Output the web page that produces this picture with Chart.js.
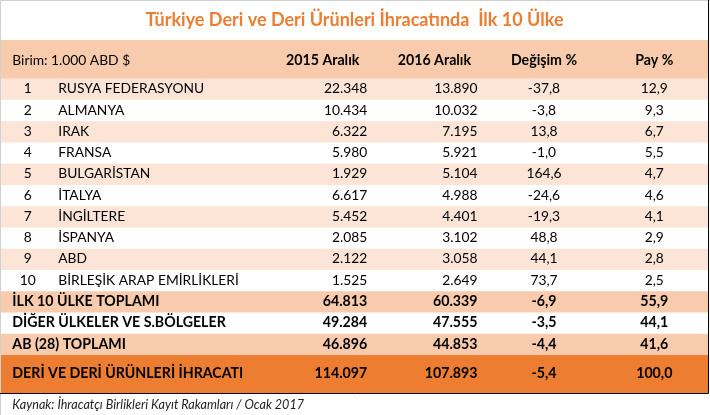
<!DOCTYPE html>
<html>
<head>
<meta charset="utf-8">
<script src="https://cdn.jsdelivr.net/npm/chart.js@4"></script>
<style>
  html, body { margin: 0; padding: 0; background: #fff; }
  .wrap { position: relative; width: 710px; height: 415px; }
</style>
</head>
<body>
<div class="wrap"><canvas id="tablo"></canvas></div>
<script>
const headers = ["Birim: 1.000 ABD $", "2015 Aralık", "2016 Aralık", "Değişim %", "Pay %"];
const ranks = [1, 2, 3, 4, 5, 6, 7, 8, 9, 10];
const countries = ["RUSYA FEDERASYONU", "ALMANYA", "IRAK", "FRANSA", "BULGARİSTAN",
  "İTALYA", "İNGİLTERE", "İSPANYA", "ABD", "BİRLEŞİK ARAP EMİRLİKLERİ"];
const dec2015 = [22348, 10434, 6322, 5980, 1929, 6617, 5452, 2085, 2122, 1525];
const dec2016 = [13890, 10032, 7195, 5921, 5104, 4988, 4401, 3102, 3058, 2649];
const change = [-37.8, -3.8, 13.8, -1.0, 164.6, -24.6, -19.3, 48.8, 44.1, 73.7];
const share = [12.9, 9.3, 6.7, 5.5, 4.7, 4.6, 4.1, 2.9, 2.8, 2.5];

const totalLabels = ["İLK 10 ÜLKE TOPLAMI", "DİĞER ÜLKELER VE S.BÖLGELER", "AB (28) TOPLAMI", "DERİ VE DERİ ÜRÜNLERİ İHRACATI"];
const total2015 = [64813, 49284, 46896, 114097];
const total2016 = [60339, 47555, 44853, 107893];
const totalChange = [-6.9, -3.5, -4.4, -5.4];
const totalShare = [55.9, 44.1, 41.6, 100.0];

const title = "Türkiye Deri ve Deri Ürünleri İhracatında  İlk 10 Ülke";
const source = "Kaynak: İhracatçı Birlikleri Kayıt Rakamları / Ocak 2017";

// turkish number format
const fmtInt = v => String(v).replace(/\B(?=(\d{3})+(?!\d))/g, ".");
const fmtDec = v => v.toFixed(1).replace(".", ",");

const FONT = "Lato, 'Open Sans', sans-serif";
const PINK = "#fce4d6", PEACH = "#f8cbad", ORANGE = "#ed7d31";
const BIG = 1.8; // header / grand total rows are taller

// row bands: [start, end] in row units
const bands = [];
bands.push({ y: [-BIG, 0], color: PEACH });
ranks.forEach((r, i) => bands.push({ y: [i, i + 1], color: i % 2 === 0 ? PINK : "#ffffff" }));
bands.push({ y: [10, 11], color: PEACH });
bands.push({ y: [11, 12], color: "#ffffff" });
bands.push({ y: [12, 13], color: PEACH });
bands.push({ y: [13, 13 + BIG], color: ORANGE });

// column layout, percent of table width
const col = { left: 1.6, rank: 3.8, name: 8.1, h15: 45.5, v15: 51.8, h16: 61.3, v16: 67.4, chg: 76.8, shr: 92.4 };

const cellText = {
  id: "cellText",
  afterDatasetsDraw(chart) {
    const { ctx, scales } = chart;
    const x = p => scales.col.getPixelForValue(p);
    const y = r => scales.y.getPixelForValue(r);
    const put = (t, px, py, align, bold, color) => {
      ctx.font = bold ? "bold 14.2px " + FONT : "13.8px " + FONT;
      ctx.fillStyle = color || "#000";
      ctx.textAlign = align;
      ctx.textBaseline = "middle";
      ctx.fillText(t, px, py);
    };
    ctx.save();
    const hy = y(-BIG / 2) + 1;
    put(headers[0], x(col.left), hy, "left", false);
    put(headers[1], x(col.h15), hy, "center", true);
    put(headers[2], x(col.h16), hy, "center", true);
    put(headers[3], x(col.chg), hy, "center", true);
    put(headers[4], x(col.shr), hy, "center", true);

    ranks.forEach((r, i) => {
      const py = y(i + 0.5);
      put(String(r), x(col.rank), py, "center", false);
      put(countries[i], x(col.name), py, "left", false);
      put(fmtInt(dec2015[i]), x(col.v15), py, "right", false);
      put(fmtInt(dec2016[i]), x(col.v16), py, "right", false);
      put(fmtDec(change[i]), x(col.chg), py, "center", false);
      put(fmtDec(share[i]), x(col.shr), py, "center", false);
    });

    totalLabels.forEach((t, i) => {
      const py = i < 3 ? y(10 + i + 0.5) : y(13 + BIG / 2);
      put(t, x(col.left), py, "left", true);
      put(fmtInt(total2015[i]), x(col.v15), py, "right", true);
      put(fmtInt(total2016[i]), x(col.v16), py, "right", true);
      put(fmtDec(totalChange[i]), x(col.chg), py, "center", true);
      put(fmtDec(totalShare[i]), x(col.shr), py, "center", true);
    });

    // frame
    const a = chart.chartArea;
    ctx.lineWidth = 1;
    ctx.strokeStyle = "#d0d0d0";
    ctx.beginPath();
    ctx.moveTo(0.5, chart.height); ctx.lineTo(0.5, 0.5); ctx.lineTo(chart.width, 0.5);
    ctx.stroke();
    ctx.strokeStyle = "#000";
    ctx.beginPath();
    ctx.moveTo(chart.width - 1.5, 0); ctx.lineTo(chart.width - 1.5, a.bottom + 0.5); ctx.lineTo(0, a.bottom + 0.5);
    ctx.stroke();

    ctx.font = "italic 12.6px " + FONT;
    ctx.fillStyle = "#222";
    ctx.textAlign = "left";
    ctx.textBaseline = "middle";
    ctx.fillText(source, x(col.left), a.bottom + 12);
    ctx.restore();
  }
};

new Chart(document.getElementById("tablo"), {
  type: "bar",
  data: {
    labels: [""],
    datasets: bands.map(b => ({
      data: [b.y],
      backgroundColor: b.color,
      borderWidth: 0,
      grouped: false,
      barPercentage: 1,
      categoryPercentage: 1,
    })),
  },
  options: {
    responsive: true,
    maintainAspectRatio: false,
    animation: false,
    events: [],
    layout: { padding: { left: 1, right: 2, bottom: 22 } },
    scales: {
      x: { display: false },
      col: { type: "linear", axis: "x", min: 0, max: 100, offset: false, display: false },
      y: { type: "linear", reverse: true, min: -BIG, max: 13 + BIG, display: false },
    },
    plugins: {
      legend: { display: false },
      tooltip: { enabled: false },
      title: {
        display: true,
        text: title,
        color: ORANGE,
        font: { family: FONT, size: 18, weight: "bold" },
        padding: { top: 9, bottom: 9.4 },
      },
    },
  },
  plugins: [cellText],
});
</script>
</body>
</html>
